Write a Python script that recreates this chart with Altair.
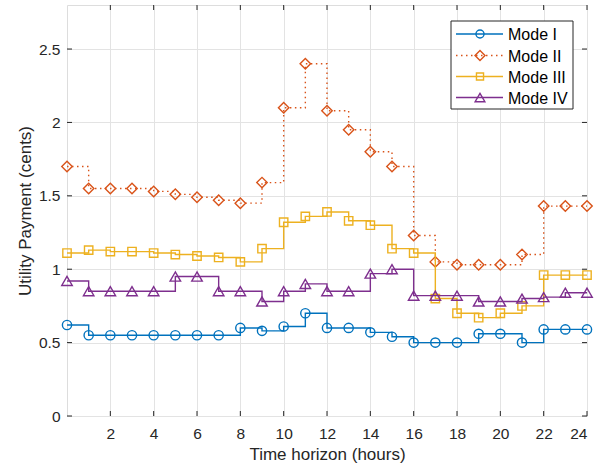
import altair as alt
import pandas as pd

hours = list(range(25))
mode_names = ["Mode I", "Mode II", "Mode III", "Mode IV"]
mode1 = [0.62, 0.55, 0.55, 0.55, 0.55, 0.55, 0.55, 0.55, 0.60, 0.58, 0.61, 0.70, 0.60,
         0.60, 0.57, 0.54, 0.50, 0.50, 0.50, 0.56, 0.56, 0.50, 0.59, 0.59, 0.59]
mode2 = [1.70, 1.55, 1.55, 1.55, 1.53, 1.51, 1.49, 1.47, 1.45, 1.59, 2.10, 2.40, 2.08,
         1.95, 1.80, 1.70, 1.23, 1.05, 1.03, 1.03, 1.03, 1.10, 1.43, 1.43, 1.43]
mode3 = [1.11, 1.13, 1.12, 1.12, 1.11, 1.10, 1.09, 1.08, 1.05, 1.14, 1.32, 1.36, 1.39,
         1.33, 1.30, 1.14, 1.11, 0.80, 0.70, 0.67, 0.70, 0.75, 0.96, 0.96, 0.96]
mode4 = [0.92, 0.85, 0.85, 0.85, 0.85, 0.95, 0.95, 0.85, 0.85, 0.78, 0.85, 0.90, 0.85,
         0.85, 0.97, 1.00, 0.82, 0.82, 0.82, 0.78, 0.78, 0.80, 0.81, 0.84, 0.84]
x_ticks = [2, 4, 6, 8, 10, 12, 14, 16, 18, 20, 22, 24]
y_ticks = [0, 0.5, 1, 1.5, 2, 2.5]

colors = ["#0072BD", "#D95319", "#EDB120", "#7E2F8E"]
shapes = ["circle", "diamond", "square", "triangle-up"]
sizes = [85, 110, 70, 110]
leg_sizes = [65, 100, 50, 95]
dashes = [[1, 0], [1.5, 3.5], [1, 0], [1, 0]]

W, H = 520, 411
FONT = "Liberation Sans"
TXT = "#262626"

series = [mode1, mode2, mode3, mode4]
df = pd.concat([pd.DataFrame({"hour": hours, "value": s, "mode": m})
                for s, m in zip(series, mode_names)], ignore_index=True)

xs = alt.Scale(domain=[0, 24], nice=False, zero=False)
ys = alt.Scale(domain=[0, 2.8], nice=False)

base_x = alt.X("hour:Q", scale=xs,
               axis=alt.Axis(values=x_ticks, title="Time horizon (hours)", tickSize=0,
                             domain=False, grid=True, gridColor="#e3e3e3", gridWidth=1,
                             labelFont=FONT, labelFontSize=15.5, labelColor=TXT, labelPadding=10,
                             titleFont=FONT, titleFontSize=17, titleFontWeight="normal",
                             titleColor=TXT, titlePadding=5))
base_y = alt.Y("value:Q", scale=ys,
               axis=alt.Axis(values=y_ticks, title="Utility Payment (cents)", tickSize=0,
                             domain=False, grid=True, gridColor="#e3e3e3", gridWidth=1,
                             format="~g", labelFont=FONT, labelFontSize=15.5, labelColor=TXT,
                             labelPadding=7, titleFont=FONT, titleFontSize=17,
                             titleFontWeight="normal", titleColor=TXT, titlePadding=4))

layers = []
for i, m in enumerate(mode_names):
    d = df[df["mode"] == m]
    line = alt.Chart(d).mark_line(interpolate="step-after", color=colors[i],
                                  strokeWidth=1.4, strokeDash=dashes[i]).encode(
        x=base_x, y=base_y)
    pts = alt.Chart(d).mark_point(shape=shapes[i], color=colors[i], filled=False,
                                  size=sizes[i], strokeWidth=1.4, opacity=1, clip=False).encode(
        x=alt.X("hour:Q", scale=xs), y=alt.Y("value:Q", scale=ys))
    layers += [line, pts]

# inward ticks on all four sides
xt = pd.DataFrame({"t": x_ticks})
yt = pd.DataFrame({"t": y_ticks})
tick_style = dict(color=TXT, strokeWidth=1)
for (a, b) in [(0, 5), (H - 5, H)]:
    layers.append(alt.Chart(xt).mark_rule(**tick_style).encode(
        x=alt.X("t:Q", scale=xs), y=alt.value(a), y2=alt.value(b)))
for (a, b) in [(0, 5), (W - 5, W)]:
    layers.append(alt.Chart(yt).mark_rule(**tick_style).encode(
        y=alt.Y("t:Q", scale=ys), x=alt.value(a), x2=alt.value(b)))

# legend box
one = pd.DataFrame({"a": [0]})
lx0, lx1, ly0, ly1 = 384, 506, 16, 104
layers.append(alt.Chart(one).mark_rect(fill="white", stroke=TXT, strokeWidth=1).encode(
    x=alt.value(lx0), x2=alt.value(lx1), y=alt.value(ly0), y2=alt.value(ly1)))
row_y = [29, 50.5, 71.5, 92.5]
for i, m in enumerate(mode_names):
    ry = row_y[i]
    layers.append(alt.Chart(one).mark_rule(color=colors[i], strokeWidth=1.4,
                                           strokeDash=dashes[i]).encode(
        x=alt.value(389), x2=alt.value(436), y=alt.value(ry)))
    layers.append(alt.Chart(one).mark_point(shape=shapes[i], color=colors[i], filled=False,
                                            size=leg_sizes[i], strokeWidth=1.4, opacity=1).encode(
        x=alt.value(413), y=alt.value(ry)))
    layers.append(alt.Chart(one).mark_text(text=m, align="left", baseline="middle", font=FONT,
                                           fontSize=16, color="#000000").encode(
        x=alt.value(441), y=alt.value(ry + 1)))

chart = alt.layer(*layers).properties(
    width=W, height=H,
    autosize=alt.AutoSizeParams(type="none"),
    padding={"left": 67, "top": 5, "right": 20, "bottom": 54},
).configure_view(stroke=TXT, strokeWidth=1.2).configure(background="white")

chart.save("out.html", embed_options={"renderer": "svg", "actions": False})
